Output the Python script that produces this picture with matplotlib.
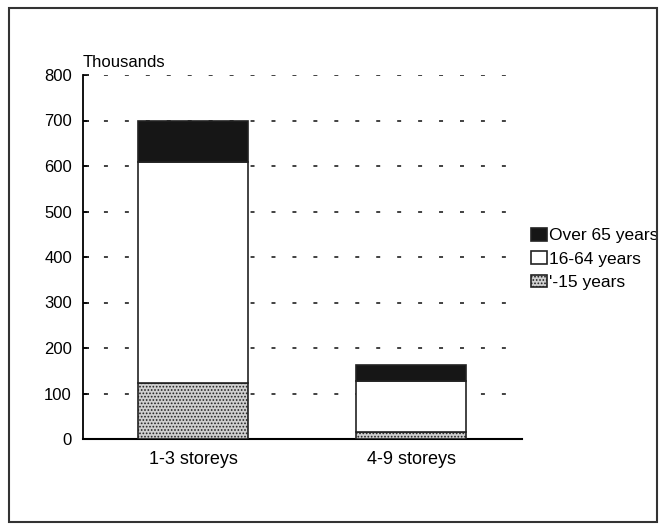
import matplotlib.pyplot as plt
from matplotlib.patches import Rectangle

# Data (thousands of people)
categories = ['1-3 storeys', '4-9 storeys']
under_15 = [123, 15]
age_16_64 = [485, 113]
over_65 = [92, 35]
series_labels = ['Over 65 years', '16-64 years', "'-15 years"]
yticks = [0, 100, 200, 300, 400, 500, 600, 700, 800]

plt.rcParams['font.family'] = ['Liberation Sans', 'DejaVu Sans']
plt.rcParams['hatch.color'] = '#6e6e6e'
plt.rcParams['hatch.linewidth'] = 0.8

fig = plt.figure(figsize=(6.65, 5.29), dpi=100)
ax = fig.add_axes([83 / 665, 1 - 439 / 529, 439 / 665, 364 / 529])

x = range(len(categories))
w = 0.505
bottom2 = [a + b for a, b in zip(under_15, age_16_64)]

b1 = ax.bar(x, under_15, w, color='#cfcfcf', edgecolor='#222222', linewidth=1.2,
            hatch='.....', zorder=3)
b2 = ax.bar(x, age_16_64, w, bottom=under_15, color='white', edgecolor='#222222',
            linewidth=1.2, zorder=3)
b3 = ax.bar(x, over_65, w, bottom=bottom2, color='#161616', edgecolor='#222222',
            linewidth=1.2, zorder=3)

ax.set_xlim(-0.505, 1.509)
ax.set_ylim(0, 800)
ax.set_yticks(yticks)
ax.set_xticks(list(x))
ax.set_xticklabels(categories, fontsize=13)
ax.tick_params(axis='y', direction='in', length=4, width=1.2, labelsize=12, pad=8)
ax.tick_params(axis='x', length=0, pad=9)

ax.yaxis.grid(True, color='#333333', linewidth=1.3, linestyle=(0, (2.2, 9.4)), zorder=1)
for s in ['top', 'right']:
    ax.spines[s].set_visible(False)
ax.spines['left'].set_linewidth(1.3)
ax.spines['bottom'].set_linewidth(1.5)

ax.text(0, 1.015, 'Thousands', transform=ax.transAxes, fontsize=12,
        ha='left', va='bottom')

fig.legend([b3, b2, b1], series_labels, loc='center left',
           bbox_to_anchor=(524 / 665, 1 - 259 / 529), frameon=False,
           fontsize=12.5, handlelength=0.9, handleheight=0.75, handletextpad=0.12,
           labelspacing=0.45, borderaxespad=0)

# outer frame, with a white strip covering the clipped legend text
fig.patches.append(Rectangle((657 / 665, 0), 8 / 665, 1, transform=fig.transFigure,
                             facecolor='white', edgecolor='none', zorder=10))
fig.patches.append(Rectangle((9 / 665, 1 - 522 / 529), 648 / 665, 514 / 529,
                             transform=fig.transFigure, fill=False,
                             edgecolor='#333333', linewidth=1.5, zorder=11))

fig.savefig('out.png', dpi=100)
